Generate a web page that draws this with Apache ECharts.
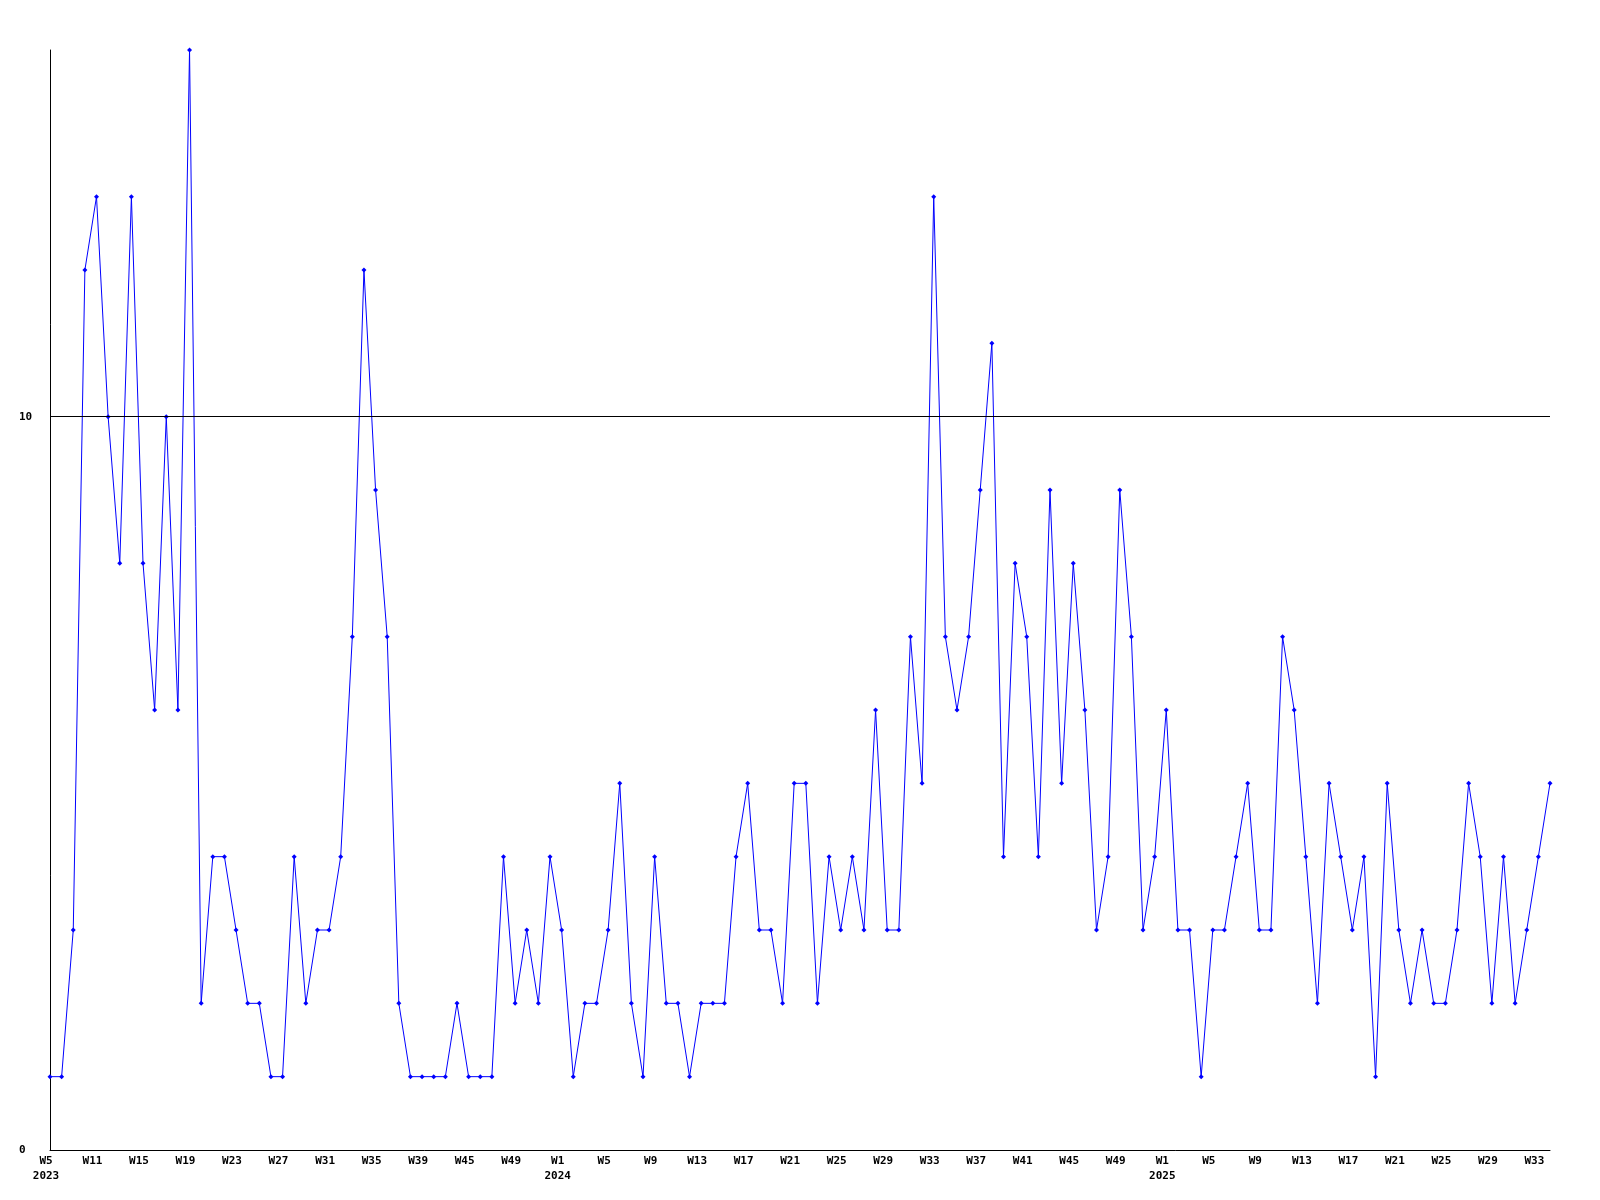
<!DOCTYPE html>
<html>
<head>
<meta charset="utf-8">
<style>html,body{margin:0;padding:0;background:#fff;}#c{width:1600px;height:1200px;}</style>
<script src="https://cdn.jsdelivr.net/npm/echarts@6/dist/echarts.min.js"></script>
</head>
<body>
<div id="c"></div>
<script>
const weeks = [
  "W5","W8","W9","W10","W11","W12","W13","W14","W15","W16","W17","W18","W19","W20","W21","W22","W23","W24","W25","W26","W27","W28","W29","W30","W31","W32","W33","W34","W35","W36","W37","W38","W39","W42","W43","W44","W45","W46","W47","W48","W49","W50","W51","W52",
  "W1","W2","W3","W4","W5","W6","W7","W8","W9","W10","W11","W12","W13","W14","W15","W16","W17","W18","W19","W20","W21","W22","W23","W24","W25","W26","W27","W28","W29","W30","W31","W32","W33","W34","W35","W36","W37","W38","W39","W40","W41","W42","W43","W44","W45","W46","W47","W48","W49","W50","W51","W52",
  "W1","W2","W3","W4","W5","W6","W7","W8","W9","W10","W11","W12","W13","W14","W15","W16","W17","W18","W19","W20","W21","W22","W23","W24","W25","W26","W27","W28","W29","W30","W31","W32","W33","W34"
];
const yearStartIndex = [0, 44, 96];
const yearLabels = ["2023", "2024", "2025"];
const values = [
  1,1,3,12,13,10,8,13,8,6,10,6,15,2,4,4,3,2,2,1,
  1,4,2,3,3,4,7,12,9,7,2,1,1,1,1,2,1,1,1,4,
  2,3,2,4,3,1,2,2,3,5,2,1,4,2,2,1,2,2,2,4,
  5,3,3,2,5,5,2,4,3,4,3,6,3,3,7,5,13,7,6,7,
  9,11,4,8,7,4,9,5,8,6,3,4,9,7,3,4,6,3,3,1,
  3,3,4,5,3,3,7,6,4,2,5,4,3,4,1,5,3,2,3,2,
  2,3,5,4,2,4,2,3,4,5
];
const yTickValues = [0, 10];
const refLineValue = 10;

const chart = echarts.init(document.getElementById('c'), null, {renderer: 'canvas'});
const font = {fontFamily: 'DejaVu Sans Mono', fontWeight: 'bold', fontSize: 11, color: '#000'};
chart.setOption({
  backgroundColor: '#fff',
  animation: false,
  grid: {left: 50, right: 50, top: 50, bottom: 50, containLabel: false},
  xAxis: {
    type: 'category',
    data: weeks,
    boundaryGap: false,
    axisLine: {show: true, lineStyle: {color: '#000', width: 1}},
    axisTick: {show: false},
    splitLine: {show: false},
    axisLabel: Object.assign({}, font, {
      interval: 3,
      margin: 4,
      lineHeight: 15,
      padding: [0, 8, 0, 0],
      formatter: function (val, idx) {
        const k = yearStartIndex.indexOf(idx);
        return k >= 0 ? val + '\n' + yearLabels[k] : val;
      }
    })
  },
  yAxis: {
    type: 'value',
    min: 0,
    max: 15,
    interval: 10,
    axisLine: {show: true, lineStyle: {color: '#000', width: 1}},
    axisTick: {show: false},
    splitLine: {show: false},
    axisLabel: Object.assign({}, font, {
      align: 'left',
      margin: 31,
      showMaxLabel: false,
      formatter: function (v) { return yTickValues.indexOf(v) >= 0 ? String(v) : ''; }
    })
  },
  series: [{
    type: 'line',
    data: values,
    symbol: 'diamond',
    symbolSize: 5,
    showAllSymbol: true,
    lineStyle: {color: '#0000ff', width: 1},
    itemStyle: {color: '#0000ff'},
    markLine: {
      silent: true,
      symbol: 'none',
      label: {show: false},
      lineStyle: {color: '#000', width: 1, type: 'solid'},
      data: [{yAxis: refLineValue}]
    }
  }]
});
</script>
</body>
</html>
